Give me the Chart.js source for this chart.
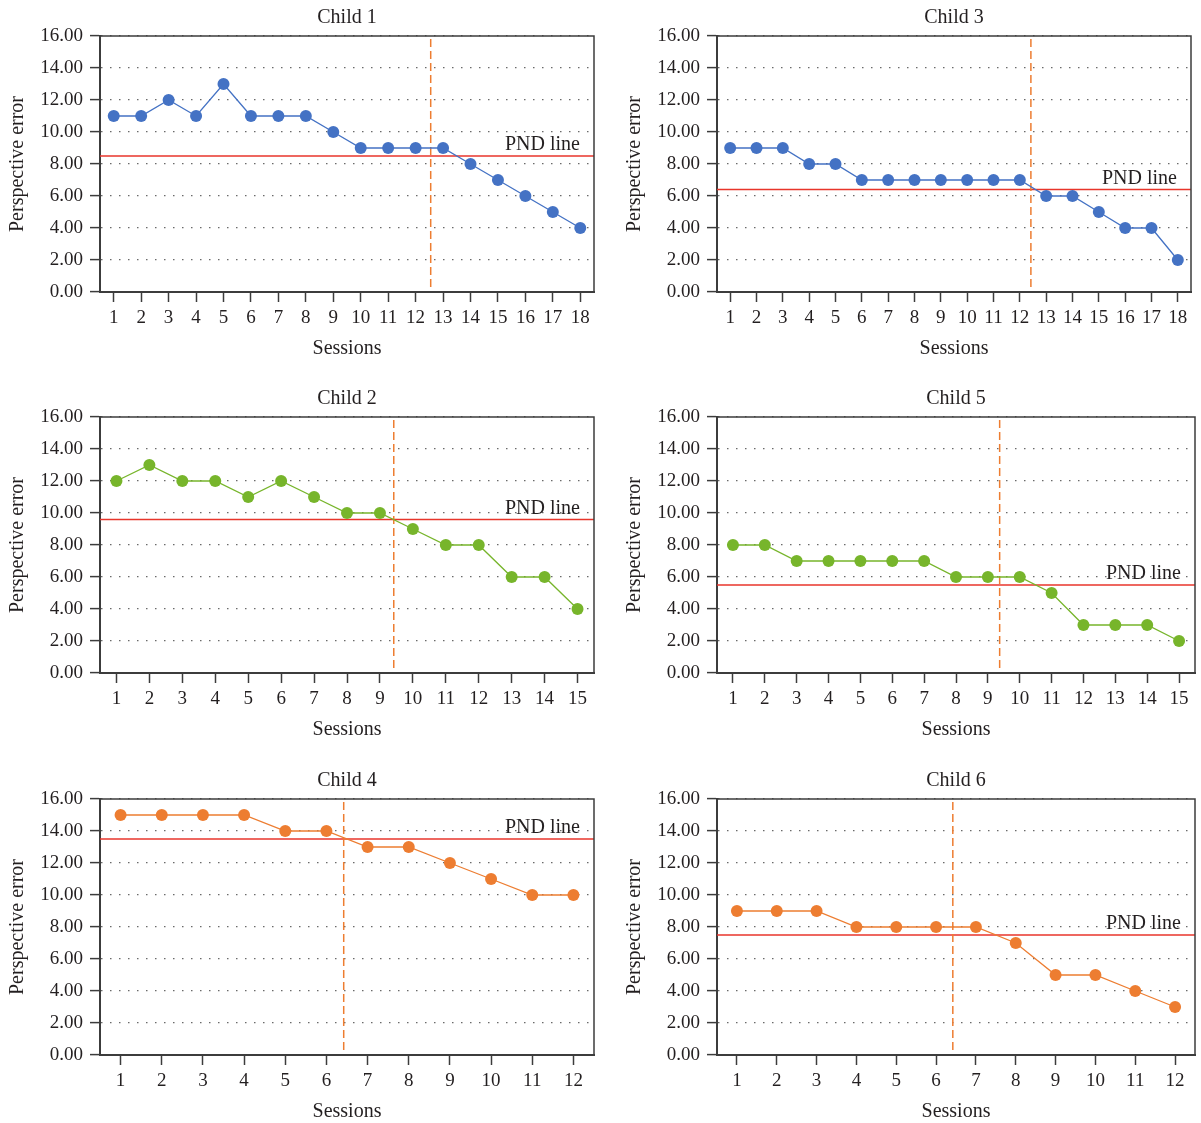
<!DOCTYPE html>
<html>
<head>
<meta charset="utf-8">
<script src="https://cdn.jsdelivr.net/npm/chart.js@4/dist/chart.umd.min.js"></script>
<style>
  html, body { margin: 0; padding: 0; background: #fff; overflow: hidden; }
  body { width: 1201px; height: 1123px; position: relative; }
  .panel { position: absolute; }
</style>
</head>
<body>
<div class="panel" style="left:0;top:0;width:600px;height:375px"><canvas id="c1"></canvas></div>
<div class="panel" style="left:617px;top:0;width:584px;height:375px"><canvas id="c3"></canvas></div>
<div class="panel" style="left:0;top:381px;width:600px;height:375px"><canvas id="c2"></canvas></div>
<div class="panel" style="left:617px;top:381px;width:584px;height:375px"><canvas id="c5"></canvas></div>
<div class="panel" style="left:0;top:763px;width:600px;height:375px"><canvas id="c4"></canvas></div>
<div class="panel" style="left:617px;top:763px;width:584px;height:375px"><canvas id="c6"></canvas></div>
<script>
// ---- data ----
const sessions18 = ['1','2','3','4','5','6','7','8','9','10','11','12','13','14','15','16','17','18'];
const sessions15 = ['1','2','3','4','5','6','7','8','9','10','11','12','13','14','15'];
const sessions12 = ['1','2','3','4','5','6','7','8','9','10','11','12'];

const child1Errors = [11, 11, 12, 11, 13, 11, 11, 11, 10, 9, 9, 9, 9, 8, 7, 6, 5, 4];
const child3Errors = [9, 9, 9, 8, 8, 7, 7, 7, 7, 7, 7, 7, 6, 6, 5, 4, 4, 2];
const child2Errors = [12, 13, 12, 12, 11, 12, 11, 10, 10, 9, 8, 8, 6, 6, 4];
const child5Errors = [8, 8, 7, 7, 7, 7, 7, 6, 6, 6, 5, 3, 3, 3, 2];
const child4Errors = [15, 15, 15, 15, 14, 14, 13, 13, 12, 11, 10, 10];
const child6Errors = [9, 9, 9, 8, 8, 8, 8, 7, 5, 5, 4, 3];

// PND line levels
const pndChild1 = 8.5, pndChild3 = 6.4, pndChild2 = 9.6, pndChild5 = 5.5, pndChild4 = 13.5, pndChild6 = 7.5;
// phase change (session position of dashed line)
const phaseChild1 = 12.55, phaseChild3 = 12.42, phaseChild2 = 9.42, phaseChild5 = 9.37, phaseChild4 = 6.42, phaseChild6 = 6.42;

const yTicks = [0, 2, 4, 6, 8, 10, 12, 14, 16];

// ---- styling ----
const FONT = '"Liberation Serif", "Times New Roman", serif';
const TXT = '#231f20';
const AXIS = '#3c3c3c';
const BLUE = '#4472c4', GREEN = '#77b52b', ORANGE = '#ed7d31', RED = '#e8352b';

const overlay = {
  id: 'overlay',
  beforeDatasetsDraw(chart) {
    const o = chart.options.plugins.overlay;
    const {ctx, chartArea: a, scales: {x, y}} = chart;
    ctx.save();
    // PND line
    const py = y.getPixelForValue(o.pnd);
    ctx.strokeStyle = RED; ctx.lineWidth = 1.5; ctx.setLineDash([]);
    ctx.beginPath(); ctx.moveTo(a.left, py); ctx.lineTo(a.right, py); ctx.stroke();
    ctx.fillStyle = TXT; ctx.font = '20px ' + FONT;
    ctx.textAlign = 'right'; ctx.textBaseline = 'bottom';
    ctx.fillText('PND line', a.right - 14, py - 1);
    // phase change line
    const px = x.getPixelForValue(o.phase - 1);
    ctx.strokeStyle = ORANGE; ctx.lineWidth = 1.5; ctx.setLineDash([8, 4]);
    ctx.beginPath(); ctx.moveTo(px, a.top + 3); ctx.lineTo(px, a.bottom - 3); ctx.stroke();
    ctx.restore();
  },
  afterDraw(chart) {
    const {ctx, chartArea: a} = chart;
    ctx.save();
    ctx.strokeStyle = AXIS; ctx.lineWidth = 1.5;
    ctx.beginPath();
    ctx.moveTo(a.left, a.top); ctx.lineTo(a.right, a.top); ctx.lineTo(a.right, a.bottom);
    ctx.stroke();
    ctx.restore();
  }
};

function makeChart(id, title, labels, values, color, pnd, phase, padRight) {
  new Chart(document.getElementById(id), {
    type: 'line',
    data: {
      labels: labels,
      datasets: [{
        data: values,
        borderColor: color,
        backgroundColor: color,
        borderWidth: 1.3,
        pointRadius: 6,
        pointHoverRadius: 6,
        pointBorderWidth: 0,
        tension: 0
      }]
    },
    options: {
      responsive: true,
      maintainAspectRatio: false,
      animation: false,
      events: [],
      layout: { padding: { left: 0, right: padRight, top: 0, bottom: 0 } },
      plugins: {
        legend: { display: false },
        tooltip: { enabled: false },
        title: {
          display: true, text: title, color: TXT, fullSize: false,
          font: { family: FONT, size: 20, weight: 'normal', lineHeight: 1.2 },
          padding: { top: 6, bottom: 6 }
        },
        overlay: { pnd: pnd, phase: phase }
      },
      scales: {
        x: {
          type: 'category',
          offset: true,
          grid: {
            display: true, drawOnChartArea: false, drawTicks: true, offset: false,
            tickLength: 10, tickColor: AXIS, tickWidth: 1.5
          },
          border: { display: true, color: AXIS, width: 2 },
          ticks: { color: TXT, font: { family: FONT, size: 19 }, padding: 5, maxRotation: 0, autoSkip: false },
          title: {
            display: true, text: 'Sessions', color: TXT,
            font: { family: FONT, size: 20 }, padding: { top: 0, bottom: 14 }
          },
          afterFit(scale) { scale.height = 83; }
        },
        y: {
          min: 0, max: 16,
          afterBuildTicks(scale) { scale.ticks = yTicks.map(v => ({ value: v })); },
          grid: {
            display: true, drawOnChartArea: true, drawTicks: true,
            color: '#6a6a6a', lineWidth: 1.2,
            tickLength: 10, tickColor: AXIS, tickWidth: 1.5, tickBorderDash: [100, 0]
          },
          border: { display: true, color: AXIS, width: 2, dash: [1.5, 7.5] },
          ticks: {
            color: TXT, font: { family: FONT, size: 19 }, padding: 7,
            callback: v => Number(v).toFixed(2)
          },
          title: {
            display: true, text: 'Perspective error', color: TXT,
            font: { family: FONT, size: 20 }, padding: { top: 6, bottom: 0 }
          },
          afterFit(scale) { scale.width = 100; }
        }
      }
    },
    plugins: [overlay]
  });
}

makeChart('c1', 'Child 1', sessions18, child1Errors, BLUE, pndChild1, phaseChild1, 4);
makeChart('c3', 'Child 3', sessions18, child3Errors, BLUE, pndChild3, phaseChild3, 10);
makeChart('c2', 'Child 2', sessions15, child2Errors, GREEN, pndChild2, phaseChild2, 6);
makeChart('c5', 'Child 5', sessions15, child5Errors, GREEN, pndChild5, phaseChild5, 5);
makeChart('c4', 'Child 4', sessions12, child4Errors, ORANGE, pndChild4, phaseChild4, 6);
makeChart('c6', 'Child 6', sessions12, child6Errors, ORANGE, pndChild6, phaseChild6, 5);
</script>
</body>
</html>
